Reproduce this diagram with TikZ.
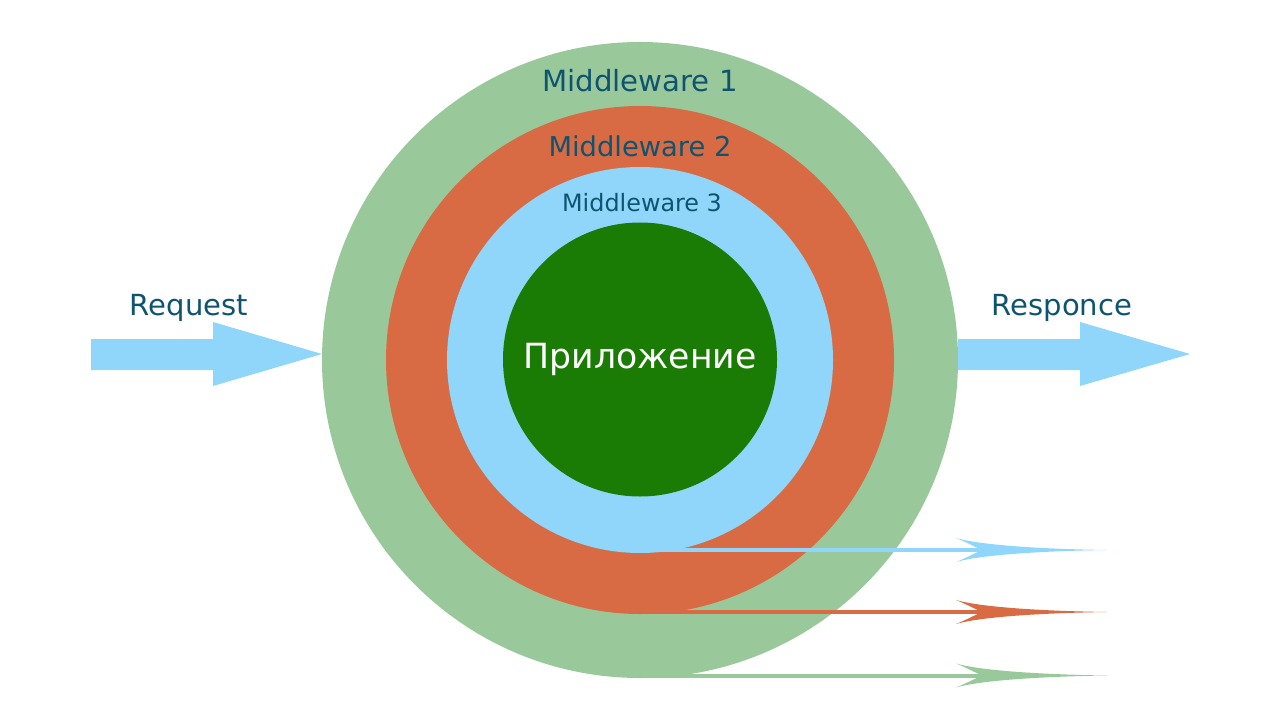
\documentclass[tikz,border=0pt]{standalone}
\usepackage{fontspec}
\setmainfont{DejaVu Sans}
\definecolor{mwone}{RGB}{153,201,155}
\definecolor{mwtwo}{RGB}{217,107,68}
\definecolor{mwthree}{RGB}{143,214,250}
\definecolor{appgreen}{RGB}{27,124,5}
\definecolor{labeltxt}{RGB}{14,84,112}
\tikzset{
  ring/.style={circle, inner sep=0pt, draw=none},
  lbl/.style={text=labeltxt, anchor=base, inner sep=0pt},
  backline/.style={line width=3pt},
}
\begin{document}
\begin{tikzpicture}[x=0.75pt,y=-0.75pt]
\useasboundingbox (0,0) rectangle (1280,720);
% rings
\node[ring, fill=mwone, minimum size=477pt] (mw1) at (640,360) {};
\node[ring, fill=mwtwo, minimum size=381pt] (mw2) at (640,360) {};
\node[ring, fill=mwthree, minimum size=289.5pt] (mw3) at (640,360) {};
\node[ring, fill=appgreen, minimum size=205.5pt] (app) at (640,359.5) {};
% labels
\node[lbl, font=\fontsize{21.9}{26}\selectfont] (t1) at (640,92) {Middleware 1};
\node[lbl, font=\fontsize{20.5}{24}\selectfont] (t2) at (640,157) {Middleware 2};
\node[lbl, font=\fontsize{17.9}{21}\selectfont] (t3) at (642,212) {Middleware 3};
\node[anchor=base, inner sep=0pt, text=white, font=\fontsize{26}{31}\selectfont] (tapp) at (640,368) {Приложение};
\node[lbl, font=\fontsize{21.8}{26}\selectfont] (treq) at (189,315) {Request};
\node[lbl, font=\fontsize{21.8}{26}\selectfont] (tres) at (1062,315) {Responce};
% big arrows
\fill[mwthree] (91,339) -- (213,339) -- (213,322) -- (322,354) -- (213,386) -- (213,370) -- (91,370) -- cycle;
\fill[mwthree] (958,339) -- (1080,339) -- (1080,322) -- (1190,354) -- (1080,386) -- (1080,370) -- (958,370) -- cycle;
% return arrows
\foreach \yy/\cc/\nm in {550/mwthree/a, 612/mwtwo/b, 675.5/mwone/c}{
  \coordinate (s\nm) at (640,\yy);
  \coordinate (e\nm) at (985,\yy);
  \draw[backline, \cc] (s\nm) -- (e\nm);
  \fill[\cc] (1107,\yy)
    .. controls (1040,\yy-1) and (980,\yy-5) .. (956,\yy-12)
    .. controls (966,\yy-8) and (975,\yy-3) .. (982,\yy)
    .. controls (975,\yy+3) and (966,\yy+8) .. (956,\yy+12)
    .. controls (980,\yy+5) and (1040,\yy+1) .. (1107,\yy) -- cycle;
}
\end{tikzpicture}
\end{document}
